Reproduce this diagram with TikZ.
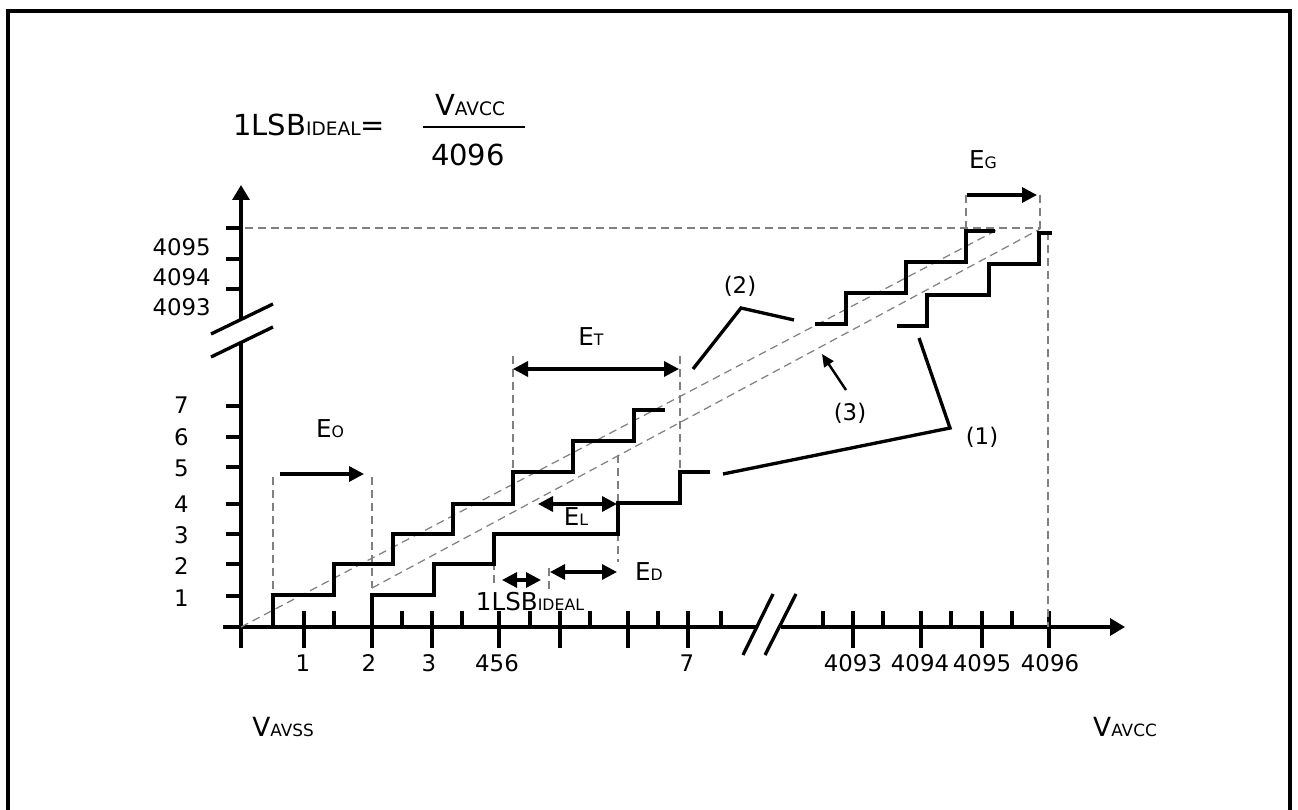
\documentclass[tikz,border=0pt]{standalone}
\usepackage{fontspec}
\setmainfont{DejaVu Sans}
\usetikzlibrary{arrows.meta}
\newcommand{\lowsub}[1]{\scalebox{0.64}{#1}}
\tikzset{
  stair/.style={line width=1.9pt, line join=miter},
  axisline/.style={line width=1.9pt},
  guide/.style={gray, line width=0.7pt, dash pattern=on 0.16cm off 0.1cm},
  dimarrow/.style={line width=1.9pt, -{Triangle[length=0.3cm,width=0.3cm]}},
  dimboth/.style={line width=1.9pt, {Triangle[length=0.3cm,width=0.3cm]}-{Triangle[length=0.3cm,width=0.3cm]}},
  numlbl/.style={font=\fontsize{13}{15}\selectfont, inner sep=0pt},
  errlbl/.style={font=\fontsize{14}{16}\selectfont, inner sep=0pt}
}
\begin{document}
\begin{tikzpicture}[x=0.02cm, y=-0.02cm]
\useasboundingbox (0,0) rectangle (1298,810);
\draw[line width=1.8pt] (8,815) -- (8,11) -- (1290,11) -- (1290,815);

% formula
\node[anchor=west, inner sep=0pt, font=\fontsize{16.5}{18}\selectfont] (lsbdef) at (233,125) {1LSB\lowsub{IDEAL}=};
\node[inner sep=0pt, font=\fontsize{16.5}{18}\selectfont] (fnum) at (470,105) {V\lowsub{AVCC}};
\node[inner sep=0pt, font=\fontsize{16.5}{18}\selectfont] (fden) at (468,155) {4096};
\draw[line width=0.7pt] (423,127) -- (525,127);

% axes
\draw[axisline] (241,648) -- (241,342);
\draw[axisline, -{Triangle[length=0.3cm,width=0.34cm]}] (241,320) -- (241,185);
\draw[axisline] (223,627) -- (757,627);
\draw[axisline, -{Triangle[length=0.3cm,width=0.34cm]}] (781,627) -- (1125,627);
\draw[axisline] (211,334) -- (273,304);
\draw[axisline] (211,357) -- (273,327);
\draw[axisline] (743,655) -- (773,594);
\draw[axisline] (765,655) -- (796,594);
\foreach \y in {596,564,534,504,467,437,406,289,259,228}
  \draw[axisline] (226,\y) -- (241,\y);
\foreach \x in {304,372,432,499,560,628,688,853,921,982,1049}
  \draw[axisline] (\x,611) -- (\x,648);
\foreach \x in {273,334,402,462,530,590,658,721,823,883,951,1012}
  \draw[axisline] (\x,611) -- (\x,627);

% axis labels
\foreach \t/\y [count=\i] in {1/598,2/566,3/535,4/504,5/468,6/437,7/405}
  \node[numlbl, anchor=east] (ylo\i) at (189,\y) {\t};
\foreach \t/\y [count=\i] in {4095/247,4094/277,4093/307}
  \node[numlbl, anchor=east] (yhi\i) at (211,\y) {\t};
\foreach \t/\x [count=\i] in {1/303,2/369,3/429,456/497,7/687,4093/853,4094/920,4095/982,4096/1050}
  \node[numlbl] (xl\i) at (\x,663) {\t};
\node[errlbl, font=\fontsize{15}{17}\selectfont] (vss) at (283,727) {V\lowsub{AVSS}};
\node[errlbl, font=\fontsize{15}{17}\selectfont] (vcc) at (1125,727) {V\lowsub{AVCC}};

% guide lines
\draw[guide] (241,627) -- (997,230);
\draw[guide] (372,588) -- (1040,229);
\draw[guide] (245,228) -- (1040,228);
\draw[guide] (1040,195) -- (1040,229);
\draw[guide] (966,195) -- (966,229);
\draw[guide] (1048,232) -- (1048,627);
\draw[guide] (273,477) -- (273,595);
\draw[guide] (372,477) -- (372,588);
\draw[guide] (513,356) -- (513,472);
\draw[guide] (680,356) -- (680,472);
\draw[guide] (618,455) -- (618,562);
\draw[guide] (549,568) -- (549,590);
\draw[guide] (494,562) -- (494,587);

% staircases
\draw[stair] (273,627) -- (273,595) -- (334,595) -- (334,564) -- (393,564) -- (393,534) -- (453,534) -- (453,504) -- (513,504) -- (513,472) -- (573,472) -- (573,441) -- (634,441) -- (634,410) -- (665,410);
\draw[stair] (372,627) -- (372,595) -- (434,595) -- (434,564) -- (494,564) -- (494,534) -- (618,534) -- (618,503) -- (680,503) -- (680,472) -- (710,472);
\draw[stair] (815,324) -- (846,324) -- (846,293) -- (906,293) -- (906,262) -- (966,262) -- (966,231) -- (995,231);
\draw[stair] (897,326) -- (927,326) -- (927,295) -- (989,295) -- (989,264) -- (1039,264) -- (1039,233) -- (1052,233);

% errors
\draw[dimarrow] (280,474) -- (364,474);
\node[errlbl] (eo) at (330,429) {E\lowsub{O}};
\draw[dimboth] (513,369) -- (679,369);
\node[errlbl] (et) at (591,337) {E\lowsub{T}};
\draw[dimboth] (538,504) -- (617,504);
\node[errlbl] (el) at (576,517) {E\lowsub{L}};
\draw[dimboth] (550,572) -- (617,572);
\node[errlbl] (ed) at (649,572) {E\lowsub{D}};
\draw[dimboth] (502,580) -- (541,580);
\node[errlbl] (lsb) at (530,602) {1LSB\lowsub{IDEAL}};
\draw[dimarrow] (967,195) -- (1037,195);
\node[errlbl] (eg) at (983,160) {E\lowsub{G}};

% callouts
\draw[stair] (693,369) -- (741,308) -- (794,320);
\node[numlbl] (c2) at (740,286) {(2)};
\draw[stair] (723,474) -- (950,428) -- (919,338);
\node[numlbl] (c1) at (982,437) {(1)};
\draw[line width=1.4pt, -{Triangle[length=0.25cm,width=0.22cm]}] (846,390) -- (822,354);
\node[numlbl] (c3) at (850,413) {(3)};
\end{tikzpicture}
\end{document}
